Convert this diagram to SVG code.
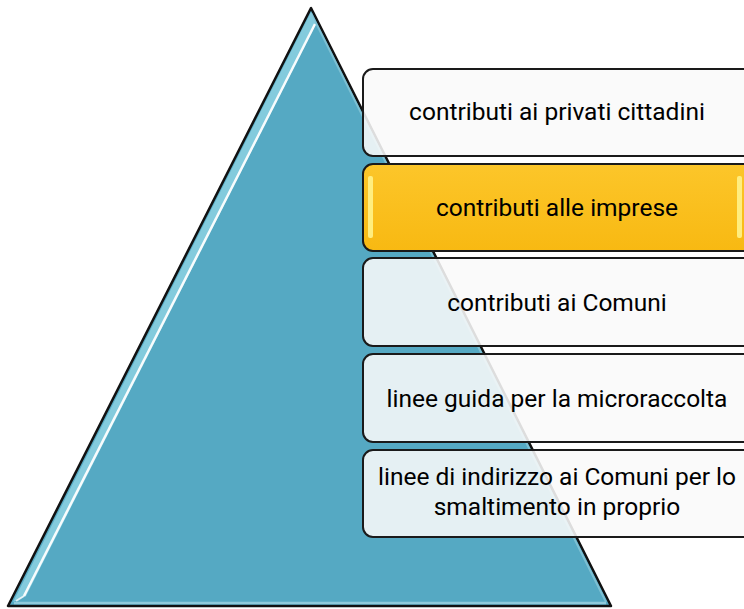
<svg xmlns="http://www.w3.org/2000/svg" width="744" height="609" viewBox="0 0 744 609">
<defs>
<linearGradient id="yel" x1="0" y1="0" x2="0" y2="1">
<stop offset="0" stop-color="#fcc62a"/>
<stop offset="1" stop-color="#f8b912"/>
</linearGradient>
</defs>
<style>
.box{fill:#f9f9f9;fill-opacity:0.88;stroke:#1a1a1a;stroke-width:2}
.hl{fill:url(#yel);stroke:#1a1a1a;stroke-width:2}
.t{font-family:Roboto,"Open Sans","Liberation Sans",sans-serif;font-size:24.5px;fill:#000;text-anchor:middle}
</style>
<g id="pyramid">
<polygon points="311,8 8,606 611,606" fill="#55a9c3" stroke="#111" stroke-width="2.5" stroke-linejoin="round"/>
<polygon points="311,12 316,24 26,596 13,602" fill="#8fd3e3" opacity="0.8"/>
<line x1="315" y1="24" x2="24" y2="596" stroke="#ffffff" stroke-width="2.5" opacity="0.95"/>
<line x1="24" y1="596" x2="16" y2="601" stroke="#ffffff" stroke-width="2" opacity="0.8"/>
<line x1="14" y1="603" x2="606" y2="603" stroke="#8fcadb" stroke-width="2.5"/>
<line x1="311" y1="13" x2="606" y2="602" stroke="#8fcadb" stroke-width="2" opacity="0.7"/>
</g>
<g id="node1">
<rect class="box" x="363" y="69" width="392" height="87" rx="10"/>
<text class="t" x="557" y="120">contributi ai privati cittadini</text>
</g>
<g id="node2">
<rect class="hl" x="363" y="164" width="392" height="87" rx="10"/>
<rect x="368" y="176" width="5" height="62" rx="2" fill="#fff38a" opacity="0.9"/>
<rect x="737" y="176" width="5" height="62" rx="2" fill="#fff38a" opacity="0.9"/>
<text class="t" x="557" y="216">contributi alle imprese</text>
</g>
<g id="node3">
<rect class="box" x="363" y="258" width="392" height="88" rx="10"/>
<text class="t" x="557" y="311">contributi ai Comuni</text>
</g>
<g id="node4">
<rect class="box" x="363" y="354" width="392" height="88" rx="10"/>
<text class="t" x="557" y="407">linee guida per la microraccolta</text>
</g>
<g id="node5">
<rect class="box" x="363" y="450" width="392" height="87" rx="10"/>
<text class="t" x="557" y="485">linee di indirizzo ai Comuni per lo</text>
<text class="t" x="557" y="514.5">smaltimento in proprio</text>
</g>
<g id="connectors"></g>
</svg>
